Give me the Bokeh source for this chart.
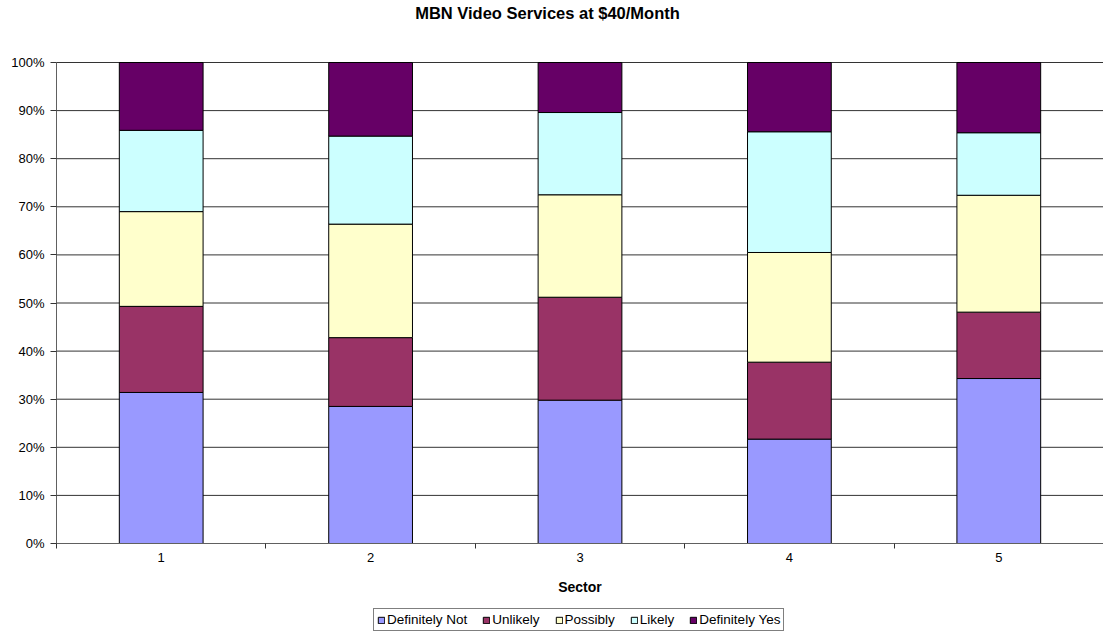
from bokeh.plotting import figure
from bokeh.models import (ColumnDataSource, FixedTicker, NumeralTickFormatter,
                          Legend, LegendItem, Range1d, Label)
from bokeh.embed import file_html
from bokeh.resources import INLINE

# Survey share of responses per sector (fractions of 1)
sectors = [1, 2, 3, 4, 5]
definitely_not = [0.314, 0.285, 0.298, 0.217, 0.343]
unlikely = [0.179, 0.143, 0.214, 0.160, 0.138]
possibly = [0.197, 0.236, 0.213, 0.228, 0.243]
likely = [0.169, 0.183, 0.171, 0.251, 0.130]
definitely_yes = [0.141, 0.153, 0.104, 0.144, 0.146]
y_ticks = [0.0, 0.1, 0.2, 0.3, 0.4, 0.5, 0.6, 0.7, 0.8, 0.9, 1.0]
sector_edges = [0.5, 1.5, 2.5, 3.5, 4.5, 5.5]

series_names = ["Definitely Not", "Unlikely", "Possibly", "Likely", "Definitely Yes"]
series_keys = ["dn", "un", "po", "li", "dy"]
series_colors = ["#9999FF", "#993366", "#FFFFCC", "#CCFFFF", "#660066"]

source = ColumnDataSource(data=dict(
    x=sectors, dn=definitely_not, un=unlikely, po=possibly,
    li=likely, dy=definitely_yes,
))

FONT = "Liberation Sans"
W, H = 1103, 634
# plotting box inside the canvas (pixels): left, top, bottom
BOX_L, BOX_T, BOX_B = 56, 62, 543
px_per_x = (W - BOX_L) / (sector_edges[-1] - sector_edges[0])
px_per_y = BOX_B - BOX_T

x_range = Range1d(sector_edges[0] - BOX_L / px_per_x, sector_edges[-1])
y_range = Range1d(-(H - BOX_B) / px_per_y, 1 + BOX_T / px_per_y)

p = figure(width=W, height=H, output_backend="svg", toolbar_location=None,
           x_range=x_range, y_range=y_range,
           min_border=0, min_border_left=0, min_border_right=0,
           min_border_top=0, min_border_bottom=0)
p.title.visible = False
p.outline_line_color = None
p.background_fill_color = "white"
p.border_fill_color = "white"
p.xgrid.visible = False
p.ygrid.visible = False

# horizontal gridlines across the plotting box
p.segment(x0=[sector_edges[0]] * len(y_ticks), x1=[sector_edges[-1]] * len(y_ticks),
          y0=y_ticks, y1=y_ticks, line_color="#333333", line_width=1)

renderers = p.vbar_stack(series_keys, x="x", width=0.4, source=source,
                         fill_color=series_colors, line_color="black",
                         line_width=1)

# y axis
yaxis = p.yaxis[0]
yaxis.fixed_location = sector_edges[0]
yaxis.bounds = (0, 1)
yaxis.ticker = FixedTicker(ticks=y_ticks)
yaxis.formatter = NumeralTickFormatter(format="0%")
yaxis.axis_line_color = "#606060"
yaxis.major_tick_line_color = "#333333"
yaxis.major_tick_out = 6
yaxis.major_tick_in = 0
yaxis.minor_tick_line_color = None
yaxis.major_label_text_font = FONT
yaxis.major_label_text_font_size = "13px"
yaxis.major_label_text_color = "black"
yaxis.major_label_standoff = 6

# x axis: labels at sector centres, ticks between sectors
xaxis = p.xaxis[0]
xaxis.fixed_location = 0
xaxis.bounds = (sector_edges[0], sector_edges[-1])
xaxis.ticker = FixedTicker(ticks=sectors, minor_ticks=sector_edges)
xaxis.axis_line_color = "#606060"
xaxis.major_tick_line_color = None
xaxis.major_tick_in = 0
xaxis.major_tick_out = 0
xaxis.minor_tick_line_color = "#333333"
xaxis.minor_tick_out = 5
xaxis.minor_tick_in = 0
xaxis.major_label_text_font = FONT
xaxis.major_label_text_font_size = "13px"
xaxis.major_label_text_color = "black"
xaxis.major_label_standoff = 4
xaxis.axis_label = "Sector"
xaxis.axis_label_text_font = FONT
xaxis.axis_label_text_font_size = "14px"
xaxis.axis_label_text_font_style = "bold"
xaxis.axis_label_text_color = "black"
xaxis.axis_label_standoff = 14

title = Label(x=547, y=H - 12, x_units="screen", y_units="screen",
              text="MBN Video Services at $40/Month", text_font=FONT,
              text_font_size="16.5px", text_font_style="bold",
              text_color="black", text_align="center", text_baseline="middle")
p.add_layout(title)

legend = Legend(
    items=[LegendItem(label=n, renderers=[r]) for n, r in zip(series_names, renderers)],
    orientation="horizontal", location=(373, 3),
    label_text_font=FONT, label_text_font_size="13.5px", label_text_color="black",
    glyph_width=8, glyph_height=8, label_standoff=2, spacing=15,
    padding=3, margin=0, border_line_color="black", border_line_width=1,
    label_height=14, background_fill_color="white",
)
p.add_layout(legend, "center")

open("out.html", "w").write(file_html(p, INLINE))
